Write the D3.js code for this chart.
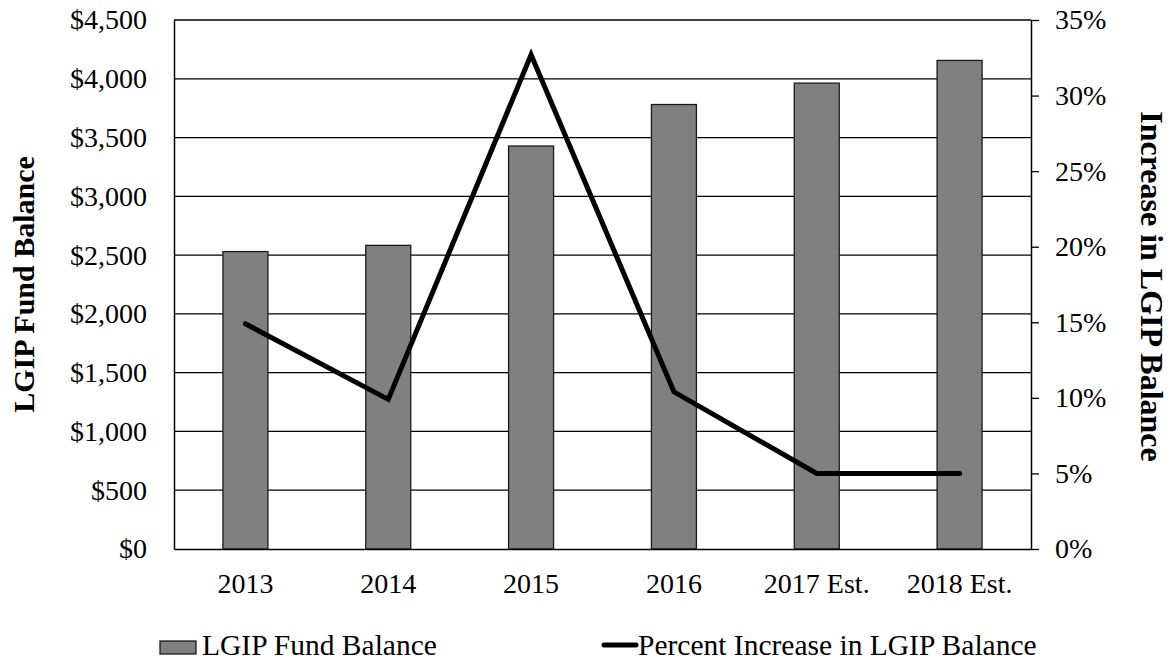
<!DOCTYPE html>
<html>
<head>
<meta charset="utf-8">
<script src="https://cdn.jsdelivr.net/npm/d3@7"></script>
<style>
  body { margin: 0; background: #fff; }
  svg { display: block; font-family: "Liberation Serif", "Times New Roman", serif; }
</style>
</head>
<body>
<div id="chart"></div>
<script>
const years = ['2013', '2014', '2015', '2016', '2017 Est.', '2018 Est.'];
const fundBalance = [2530, 2583, 3428, 3781, 3963, 4156];
const pctIncrease = [14.9, 9.9, 32.7, 10.4, 5.0, 5.0];
const leftTicks = [0, 500, 1000, 1500, 2000, 2500, 3000, 3500, 4000, 4500];
const rightTicks = [0, 5, 10, 15, 20, 25, 30, 35];

const width = 1172, height = 662;
const margin = { top: 20, right: 141, bottom: 113, left: 174 };
const innerW = width - margin.left - margin.right;
const innerH = height - margin.top - margin.bottom;
const fontSize = 28;

const svg = d3.select('#chart').append('svg')
    .attr('width', width)
    .attr('height', height);

const g = svg.append('g')
    .attr('transform', `translate(${margin.left},${margin.top})`);

const x = d3.scaleBand()
    .domain(years)
    .range([0, innerW]);

const yLeft = d3.scaleLinear()
    .domain([0, 4500])
    .range([innerH, 0]);

const yRight = d3.scaleLinear()
    .domain([0, 35])
    .range([innerH, 0]);

// gridlines
g.append('g')
    .selectAll('line')
    .data(leftTicks.slice(1))
    .join('line')
    .attr('x1', 0)
    .attr('x2', innerW)
    .attr('y1', d => yLeft(d))
    .attr('y2', d => yLeft(d))
    .attr('stroke', '#000')
    .attr('stroke-width', 1.3);

// bars
const barW = x.step() * 0.315;
g.append('g')
    .selectAll('rect')
    .data(years)
    .join('rect')
    .attr('x', d => x(d) + x.bandwidth() / 2 - barW / 2)
    .attr('y', (d, i) => yLeft(fundBalance[i]))
    .attr('width', barW)
    .attr('height', (d, i) => innerH - yLeft(fundBalance[i]))
    .attr('fill', '#808080')
    .attr('stroke', '#1a1a1a')
    .attr('stroke-width', 1.3);

function styleText(sel) {
    sel.selectAll('text')
        .attr('font-size', fontSize)
        .attr('font-family', '"Liberation Serif", serif')
        .attr('fill', '#000');
}

// left axis
const leftAxis = g.append('g')
    .call(d3.axisLeft(yLeft)
        .tickValues(leftTicks)
        .tickSize(0)
        .tickPadding(27)
        .tickFormat(d => '$' + d3.format(',')(d)));
leftAxis.select('.domain').attr('stroke', '#000').attr('stroke-width', 1.5);
styleText(leftAxis);

// right axis
const rightAxis = g.append('g')
    .attr('transform', `translate(${innerW},0)`)
    .call(d3.axisRight(yRight)
        .tickValues(rightTicks)
        .tickSize(8)
        .tickSizeOuter(0)
        .tickPadding(16)
        .tickFormat(d => d + '%'));
rightAxis.select('.domain').attr('stroke', '#000').attr('stroke-width', 1.5);
rightAxis.selectAll('.tick line').attr('stroke', '#000').attr('stroke-width', 1.3);
styleText(rightAxis);

// bottom axis
const bottomAxis = g.append('g')
    .attr('transform', `translate(0,${innerH})`)
    .call(d3.axisBottom(x).tickSize(0).tickPadding(24));
bottomAxis.select('.domain').attr('stroke', '#000').attr('stroke-width', 1.5);
styleText(bottomAxis);

// percent line
const line = d3.line()
    .x((d, i) => x(years[i]) + x.bandwidth() / 2)
    .y(d => yRight(d));

g.append('path')
    .datum(pctIncrease)
    .attr('d', line)
    .attr('fill', 'none')
    .attr('stroke', '#000')
    .attr('stroke-width', 5)
    .attr('stroke-linecap', 'round')
    .attr('stroke-linejoin', 'miter');

// axis titles
svg.append('text')
    .attr('transform', `translate(34,${margin.top + innerH / 2}) rotate(-90)`)
    .attr('text-anchor', 'middle')
    .attr('font-size', 30)
    .attr('font-weight', 'bold')
    .text('LGIP Fund Balance');

svg.append('text')
    .attr('transform', `translate(1141,${margin.top + innerH / 2 + 2}) rotate(90)`)
    .attr('text-anchor', 'middle')
    .attr('font-size', 32)
    .attr('font-weight', 'bold')
    .text('Increase in LGIP Balance');

// legend
const legend = svg.append('g');
legend.append('rect')
    .attr('x', 160)
    .attr('y', 641)
    .attr('width', 36)
    .attr('height', 13)
    .attr('fill', '#808080')
    .attr('stroke', '#1a1a1a')
    .attr('stroke-width', 1.3);
legend.append('text')
    .attr('x', 202)
    .attr('y', 655)
    .attr('font-size', 29.5)
    .text('LGIP Fund Balance');

legend.append('line')
    .attr('x1', 604)
    .attr('x2', 636)
    .attr('y1', 645)
    .attr('y2', 645)
    .attr('stroke', '#000')
    .attr('stroke-width', 5)
    .attr('stroke-linecap', 'round');
legend.append('text')
    .attr('x', 638)
    .attr('y', 655)
    .attr('font-size', 29.5)
    .text('Percent Increase in LGIP Balance');
</script>
</body>
</html>
